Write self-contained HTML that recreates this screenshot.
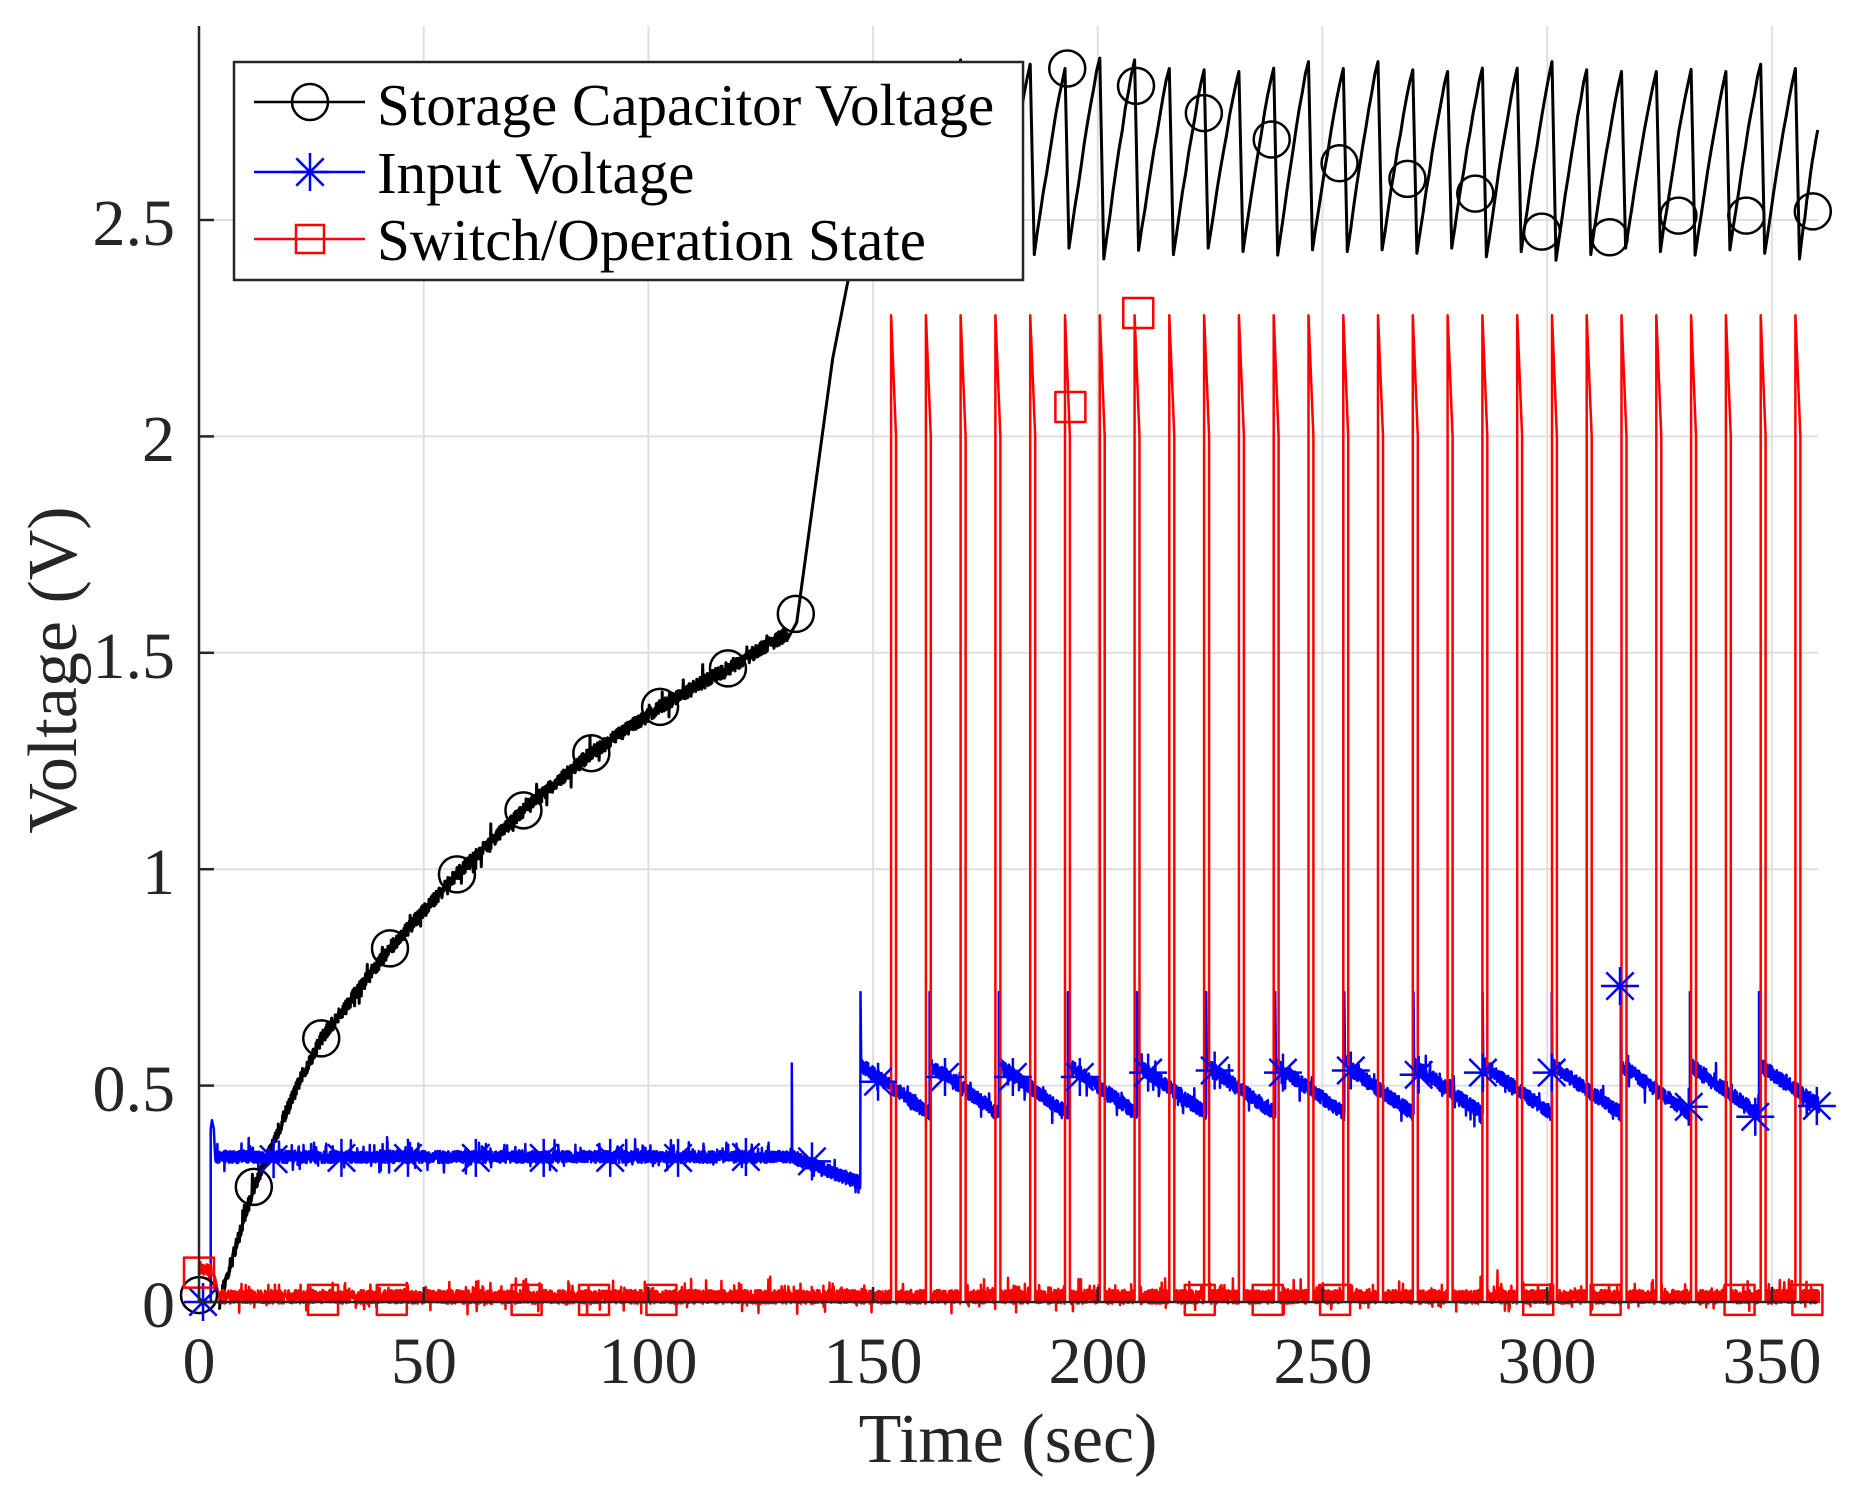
<!DOCTYPE html>
<html><head><meta charset="utf-8">
<style>
html,body{margin:0;padding:0;background:#fff;}
svg{display:block;}
text{font-family:"Liberation Serif","DejaVu Serif",serif;fill:#262626;}
</style></head>
<body>
<svg id="s" width="1856" height="1492" viewBox="0 0 1856 1492" xmlns="http://www.w3.org/2000/svg">
<rect width="1856" height="1492" fill="#fff"/>
<g id="grid" stroke="#dfdfdf" stroke-width="2"></g>
<g id="data" fill="none" stroke-linejoin="round"></g>
<g id="axes" stroke="#262626" stroke-width="2.5"></g>
<g id="labels" font-size="66">
<text x="175" y="1327" text-anchor="end">0</text>
<text x="175" y="1111" text-anchor="end">0.5</text>
<text x="175" y="894" text-anchor="end">1</text>
<text x="175" y="678" text-anchor="end">1.5</text>
<text x="175" y="461" text-anchor="end">2</text>
<text x="175" y="245" text-anchor="end">2.5</text>
<text x="199" y="1383" text-anchor="middle">0</text>
<text x="424" y="1383" text-anchor="middle">50</text>
<text x="648" y="1383" text-anchor="middle">100</text>
<text x="873" y="1383" text-anchor="middle">150</text>
<text x="1098" y="1383" text-anchor="middle">200</text>
<text x="1323" y="1383" text-anchor="middle">250</text>
<text x="1547" y="1383" text-anchor="middle">300</text>
<text x="1772" y="1383" text-anchor="middle">350</text>
<text x="1008" y="1462" text-anchor="middle" font-size="70">Time (sec)</text>
<text transform="translate(76,670) rotate(-90)" text-anchor="middle" font-size="70">Voltage (V)</text>
</g>
<g id="legend">
<rect x="234" y="62" width="789" height="218" fill="#fff" stroke="#262626" stroke-width="2.5"/>
<line x1="254" y1="102" x2="365" y2="102" stroke="#000" stroke-width="2.5"/>
<circle cx="310" cy="102" r="18" fill="none" stroke="#000" stroke-width="2.5"/>
<line x1="254" y1="172" x2="365" y2="172" stroke="#0000ff" stroke-width="2.5"/>
<g id="legstar"></g>
<line x1="254" y1="239" x2="365" y2="239" stroke="#ff0000" stroke-width="2.5"/>
<rect x="296" y="225" width="28" height="28" fill="none" stroke="#ff0000" stroke-width="2.5"/>
<text x="377" y="125" font-size="59" style="fill:#000">Storage Capacitor Voltage</text>
<text x="377" y="193" font-size="59" style="fill:#000">Input Voltage</text>
<text x="377" y="260" font-size="59" style="fill:#000">Switch/Operation State</text>
</g>
</svg>
<script>
(function(){
var NS="http://www.w3.org/2000/svg";
function X(t){return 199+4.494*t;}
function Y(v){return 1302-432.8*v;}
var seed=12345;function rnd(){seed=(seed*16807)%2147483647;return (seed-1)/2147483646;}
function el(p,n,a){var e=document.createElementNS(NS,n);for(var k in a)e.setAttribute(k,a[k]);p.appendChild(e);return e;}
var grid=document.getElementById('grid');
for(var t=50;t<=350;t+=50)el(grid,'line',{x1:X(t),y1:26,x2:X(t),y2:1302});
for(var v=0.5;v<=2.51;v+=0.5)el(grid,'line',{x1:199,y1:Y(v),x2:1818,y2:Y(v)});
var axes=document.getElementById('axes');
el(axes,'line',{x1:199,y1:26,x2:199,y2:1303});
el(axes,'line',{x1:198,y1:1302,x2:1818,y2:1302});
for(var v=0;v<=2.51;v+=0.5)el(axes,'line',{x1:199,y1:Y(v),x2:214,y2:Y(v)});
for(var t=0;t<=350;t+=50)el(axes,'line',{x1:X(t),y1:1302,x2:X(t),y2:1287});
var data=document.getElementById('data');
function interp(pts,t){for(var i=0;i<pts.length-1;i++){if(t<=pts[i+1][0]){var a=pts[i],b=pts[i+1];return a[1]+(b[1]-a[1])*(t-a[0])/(b[0]-a[0]);}}return pts[pts.length-1][1];}
function path(pts,color,w){var d='';for(var i=0;i<pts.length;i++){d+=(i?'L':'M')+X(pts[i][0]).toFixed(1)+' '+Y(pts[i][1]).toFixed(1);}el(data,'path',{d:d,stroke:color,'stroke-width':w});}
function noise(a){var r=(rnd()-0.5)*2*a;if(rnd()<0.04)r+=(rnd()-0.5)*a*4;return r;}
var S=[];for(var k=0;k<27;k++)S.push(154+7.74*k);
// BLACK
var bp=[[4.5,0],[12.2,0.266],[22.5,0.513],[27.2,0.609],[42.5,0.817],[57.4,0.988],[72.2,1.136],[87.3,1.268],[102.6,1.375],[117.7,1.464],[131,1.545]];
var B=[];
for(var t=4.5;t<=131;t+=0.06){B.push([t,interp(bp,t)+noise(0.016)]);}
B.push([133,1.57]);B.push([141,2.18]);B.push([146.3,2.46]);
var pk=[2.86,2.85,2.87,2.84,2.86,2.85,2.874,2.87,2.85,2.847,2.843,2.851,2.866,2.85,2.866,2.847,2.843,2.851,2.851,2.866,2.847,2.843,2.843,2.848,2.843,2.86,2.85];
var mn=[2.43,2.42,2.435,2.42,2.42,2.435,2.41,2.43,2.42,2.435,2.427,2.419,2.431,2.427,2.431,2.423,2.435,2.415,2.427,2.407,2.42,2.435,2.427,2.419,2.431,2.423,2.41];
B.push([154,pk[0]]);
for(var k=0;k<27;k++){var s=S[k];B.push([s,pk[k]]);B.push([s+0.9,mn[k]]);
 var end=(k<26)?S[k+1]:360.2;var endv=(k<26)?pk[k+1]:2.708;
 for(var j=1;j<=10;j++){var f=j/10;var tt=s+0.9+(end-s-0.9)*f;var vv=mn[k]+(endv-mn[k])*(1-Math.pow(1-f,1.15));B.push([tt,vv+(j<10?(rnd()-0.5)*0.008:0)]);}
}
path(B,'#000',3);
// BLUE
var U=[[0,0],[2.6,0],[2.6,0.40],[2.9,0.42],[3.3,0.40],[3.6,0.335]];
for(var t=3.7;t<131.9;t+=0.05)U.push([t,0.335+noise(0.014)+(rnd()<0.05?rnd()*0.035:0)]);
U.push([131.9,0.335]);U.push([131.9,0.551]);U.push([132.0,0.34]);
for(var t=132.1;t<147.2;t+=0.05)U.push([t,0.335-0.06*(t-132)/15.2+noise(0.016)]);
var bs=[];for(var j=0;j<14;j++)bs.push(147.2+15.38*j);
for(var j=0;j<14;j++){var s=bs[j];var end=(j<13)?bs[j+1]:360.5;
 U.push([s,0.716]);U.push([s+0.15,0.55]);
 var e0=(j<13)?0.435:0.455;
 for(var t=s+0.25;t<end;t+=0.05){U.push([t,0.548+(e0-0.548)*(t-s)/(end-s)+noise(0.017)]);}
 if(j<13)U.push([end,e0]);
}
path(U,'#0000ff',2.5);
// RED
var R=[];
for(var t=0;t<2.8;t+=0.05)R.push([t,0.075+noise(0.012)]);
R.push([3.5,0.06]);R.push([4.5,0.01]);
var si=0;
for(var t=4.6;t<=360.5;t+=0.05){
 if(si<S.length&&t>=S[si]){var s=S[si];R.push([s,0.005]);R.push([s,2.28]);R.push([s+1.1,2.0]);R.push([s+1.1,0.005]);t=s+1.15;si++;continue;}
 R.push([t,0.012+noise(0.016)+(rnd()<0.03?rnd()*0.035:0)]);
}
path(R,'#ff0000',2.5);
// markers
var circ=[[0,0.016],[12.2,0.266],[27.2,0.609],[42.5,0.817],[57.4,0.988],[72.2,1.136],[87.3,1.268],[102.6,1.375],[117.7,1.464],[132.8,1.59],[193.2,2.85],[208.5,2.81],[223.6,2.747],[238.7,2.686],[253.8,2.631],[268.9,2.595],[284,2.561],[298.8,2.473],[313.9,2.46],[329.2,2.51],[344.3,2.51],[359.1,2.52]];
circ.forEach(function(p){el(data,'circle',{cx:X(p[0]),cy:Y(p[1]),r:18,stroke:'#000','stroke-width':2.5});});
function star(g,cx,cy,r){var d='M'+(cx-r)+' '+cy+'H'+(cx+r)+'M'+cx+' '+(cy-r)+'V'+(cy+r);var q=r*0.72;d+='M'+(cx-q)+' '+(cy-q)+'L'+(cx+q)+' '+(cy+q)+'M'+(cx-q)+' '+(cy+q)+'L'+(cx+q)+' '+(cy-q);el(g,'path',{d:d,stroke:'#0000ff','stroke-width':2.5,fill:'none'});}
var st=[[0.9,0],[16.6,0.33],[31.7,0.333],[46.5,0.333],[61.6,0.333],[76.7,0.333],[91.5,0.333],[106.6,0.333],[121.7,0.335],[136.4,0.325],[151.1,0.509],[166,0.52],[181.1,0.52],[196,0.52],[211.2,0.53],[226,0.535],[241.2,0.53],[256.3,0.535],[271.4,0.525],[285.7,0.53],[301,0.53],[316.2,0.73],[331.5,0.451],[346.3,0.428],[360,0.453]];
st.forEach(function(p){star(data,X(p[0]),Y(p[1]),19);});
var sq=[[0,0.068],[27.6,0.005],[42.9,0.005],[72.9,0.005],[87.9,0.005],[102.9,0.005],[193.9,2.068],[209,2.285],[222.7,0.005],[237.8,0.005],[252.8,0.005],[298,0.005],[313,0.005],[342.8,0.005],[357.9,0.005]];
sq.forEach(function(p){el(data,'rect',{x:X(p[0])-15,y:Y(p[1])-15,width:30,height:30,stroke:'#ff0000','stroke-width':2.5});});
star(document.getElementById('legstar'),310,172,19);
})();
</script>
</body></html>
